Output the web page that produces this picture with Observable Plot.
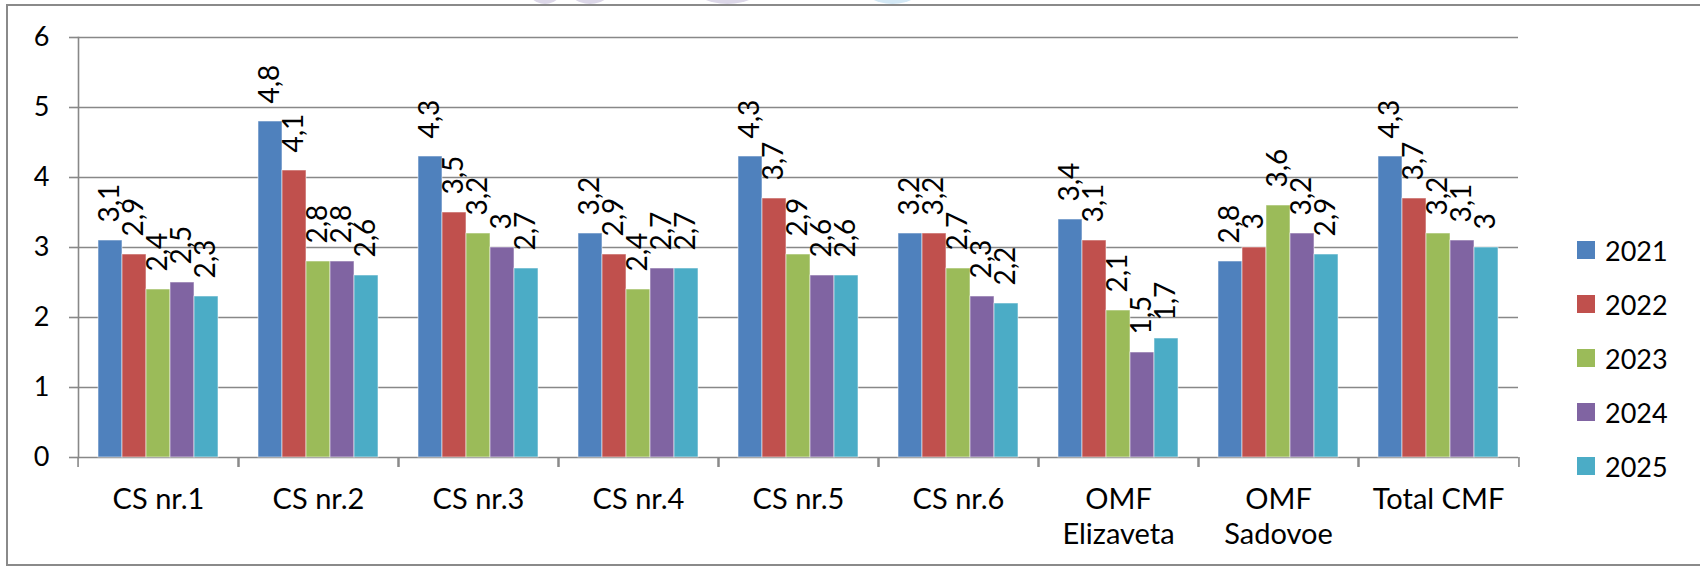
<!DOCTYPE html>
<html>
<head>
<meta charset="utf-8">
<script src="https://cdn.jsdelivr.net/npm/d3@7"></script>
<script src="https://cdn.jsdelivr.net/npm/@observablehq/plot@0.6"></script>
<style>
  html, body { margin: 0; padding: 0; background: #fff; }
  #wrap { position: relative; width: 1700px; height: 571px; overflow: hidden; font-family: Lato, "Open Sans", sans-serif; }
  #border { position: absolute; left: 6px; top: 4px; width: 1720px; height: 562px; border: 2px solid #8a8a8a; box-sizing: border-box; pointer-events: none; }
  #legend { position: absolute; left: 1577px; top: 223px; }
  .item { display: flex; align-items: center; height: 54px; font-size: 27px; color: #000; }
  .sw { width: 18px; height: 18px; margin-right: 10px; }
  .wm { position: absolute; border-radius: 50%; }
</style>
</head>
<body>
<div id="wrap">
  <div class="wm" style="left:525px;top:-40px;width:40px;height:44px;background:#dcd7e8;"></div>
  <div class="wm" style="left:565px;top:-40px;width:50px;height:44px;background:#dcd7e8;"></div>
  <div class="wm" style="left:690px;top:-40px;width:75px;height:44px;background:#dcd7e8;"></div>
  <div class="wm" style="left:860px;top:-40px;width:65px;height:44px;background:#d3e8f5;"></div>
  <div id="chart"></div>
  <div id="border"></div>
  <div id="legend"></div>
</div>
<script>
const categories = ["CS nr.1", "CS nr.2", "CS nr.3", "CS nr.4", "CS nr.5", "CS nr.6", "OMF Elizaveta", "OMF Sadovoe", "Total CMF"];
const categoryLabels = ["CS nr.1", "CS nr.2", "CS nr.3", "CS nr.4", "CS nr.5", "CS nr.6", "OMF\nElizaveta", "OMF\nSadovoe", "Total CMF"];
const years = ["2021", "2022", "2023", "2024", "2025"];
const v2021 = [3.1, 4.8, 4.3, 3.2, 4.3, 3.2, 3.4, 2.8, 4.3];
const v2022 = [2.9, 4.1, 3.5, 2.9, 3.7, 3.2, 3.1, 3.0, 3.7];
const v2023 = [2.4, 2.8, 3.2, 2.4, 2.9, 2.7, 2.1, 3.6, 3.2];
const v2024 = [2.5, 2.8, 3.0, 2.7, 2.6, 2.3, 1.5, 3.2, 3.1];
const v2025 = [2.3, 2.6, 2.7, 2.7, 2.6, 2.2, 1.7, 2.9, 3.0];
const yTicks = [0, 1, 2, 3, 4, 5, 6];
const colors = ["#4F81BD", "#C0504D", "#9BBB59", "#8064A2", "#4BACC6"];

const series = [v2021, v2022, v2023, v2024, v2025];
const rows = [];
categories.forEach((c, i) => {
  years.forEach((yr, j) => rows.push({cat: c, year: yr, value: series[j][i]}));
});
const labelOf = new Map(categories.map((c, i) => [c, categoryLabels[i]]));

const W = 1700, H = 571, ML = 74, MR = 178, MT = 37, MB = 114;
const step = (W - ML - MR) / categories.length;
const grey = "#888888";

const chart = Plot.plot({
  width: W, height: H,
  marginLeft: ML, marginRight: MR, marginTop: MT, marginBottom: MB,
  style: {fontFamily: "Lato, sans-serif", fontSize: "26px", color: "#000", background: "transparent"},
  fx: {domain: categories, padding: 0, label: null},
  x: {domain: years, paddingInner: 0, paddingOuter: 0.72, axis: null},
  y: {domain: [0, 6], label: null, axis: null},
  color: {domain: years, range: colors},
  marks: [
    Plot.gridY(yTicks, {stroke: grey, strokeOpacity: 1, strokeWidth: 1.6}),
    Plot.frame({anchor: "left", facetAnchor: "left", stroke: grey, strokeWidth: 1.6}),
    Plot.barY(rows, {fx: "cat", x: "year", y: "value", fill: "year", stroke: "#ffffff", strokeOpacity: 0.55, strokeWidth: 1}),
    Plot.text(rows, {fx: "cat", x: "year", y: "value", text: d => String(d.value).replace(".", ","),
      rotate: -90, textAnchor: "start", lineAnchor: "middle", dy: -18, fontSize: 28, fill: "#000"}),
    Plot.axisY(yTicks, {tickSize: 9, text: null, stroke: grey, strokeWidth: 1.6, label: null}),
    Plot.text(yTicks, {y: d => d, text: d => String(d), frameAnchor: "left", facetAnchor: "left", dx: -29,
      textAnchor: "end", lineAnchor: "middle", fontSize: 27, fill: "#000"}),
    Plot.axisFx({anchor: "bottom", tickSize: 0, tickPadding: 27, fontSize: 29, lineHeight: 1.2, fill: "#000", label: null,
      tickFormat: d => labelOf.get(d)}),
    Plot.axisFx({anchor: "bottom", tickSize: 10, text: null, dx: -step / 2, stroke: grey, strokeWidth: 1.6, label: null}),
    Plot.axisFx(["Total CMF"], {anchor: "bottom", tickSize: 10, text: null, dx: step / 2, stroke: grey, strokeWidth: 1.6, label: null})
  ]
});
document.getElementById("chart").appendChild(chart);

const legend = document.getElementById("legend");
years.forEach((yr, j) => {
  const item = document.createElement("div");
  item.className = "item";
  const sw = document.createElement("div");
  sw.className = "sw";
  sw.style.background = colors[j];
  const t = document.createElement("span");
  t.textContent = yr;
  item.appendChild(sw);
  item.appendChild(t);
  legend.appendChild(item);
});
</script>
</body>
</html>
